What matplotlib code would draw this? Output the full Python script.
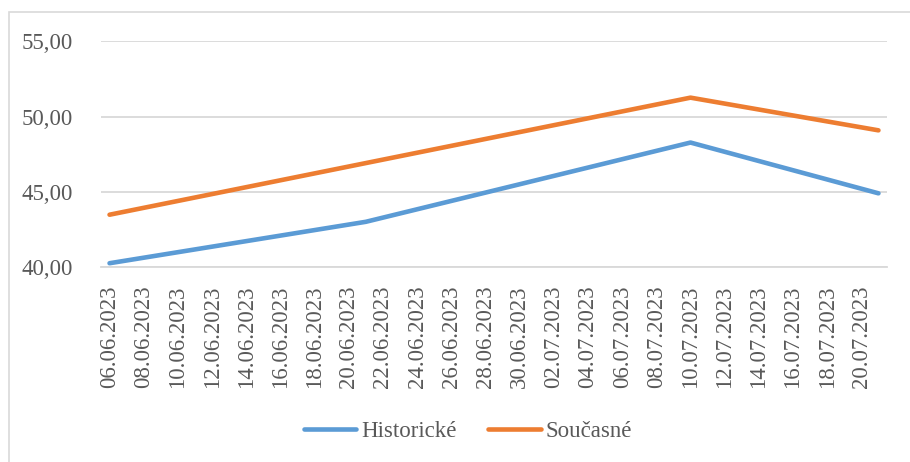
import matplotlib
matplotlib.use("Agg")
import matplotlib.pyplot as plt
import matplotlib.dates as mdates
from matplotlib.patches import Rectangle
import pandas as pd
from matplotlib.ticker import FuncFormatter, MultipleLocator

hist_dates = ["2023-06-06", "2023-06-21", "2023-07-10", "2023-07-21"]
hist_values = [40.27, 43.02, 48.28, 44.91]
curr_dates = ["2023-06-06", "2023-07-10", "2023-07-21"]
curr_values = [43.49, 51.26, 49.09]
series_names = ["Historické", "Současné"]
axis_start = "2023-06-06"
axis_end = "2023-07-21"

plt.rcParams['font.family'] = ['Liberation Serif', 'DejaVu Serif']

fig = plt.figure(figsize=(9.10, 4.62), dpi=100)
fig.patch.set_facecolor('white')
# outer chart border
fig.patches.append(Rectangle((9/910, -0.2), 1.2, 1 - 12/462 + 0.2,
                             transform=fig.transFigure, fill=False,
                             edgecolor='#D9D9D9', linewidth=1.2))

ax = fig.add_axes([101/910, 1 - 267.3/462, 786/910, 226/462])

hd = pd.to_datetime(hist_dates)
cd = pd.to_datetime(curr_dates)
ax.plot(hd, hist_values, color='#5B9BD5', lw=3.3, solid_capstyle='round',
        solid_joinstyle='round', label=series_names[0], zorder=3)
ax.plot(cd, curr_values, color='#ED7D31', lw=3.3, solid_capstyle='round',
        solid_joinstyle='round', label=series_names[1], zorder=3)

start = pd.Timestamp(axis_start)
end = pd.Timestamp(axis_end)
ax.set_xlim(start - pd.Timedelta(hours=12), end + pd.Timedelta(hours=12))
ax.set_ylim(40, 55)

ax.yaxis.set_major_locator(MultipleLocator(5))
ax.yaxis.set_major_formatter(FuncFormatter(lambda v, p: f"{v:.2f}".replace('.', ',')))
ticks = pd.date_range(start, end, freq='2D')
ax.set_xticks(ticks)
ax.xaxis.set_major_formatter(mdates.DateFormatter('%d.%m.%Y'))

ax.grid(axis='y', color='#D9D9D9', lw=1.3)
ax.set_axisbelow(True)
for s in ['top', 'right', 'left']:
    ax.spines[s].set_visible(False)
ax.spines['bottom'].set_color('#D9D9D9')
ax.spines['bottom'].set_linewidth(1.3)

ax.tick_params(axis='y', length=0, pad=20, labelsize=16.5, labelcolor='#595959')
ax.tick_params(axis='x', length=0, pad=13, labelsize=16.5, labelcolor='#595959',
               labelrotation=90)

fig.legend(loc='center', bbox_to_anchor=(0.514, 0.067), ncol=2, frameon=False,
           fontsize=16.5, labelcolor='#595959', handlelength=2.3,
           handletextpad=0.2, columnspacing=1.4)

fig.savefig('out.png', dpi=100, facecolor='white')
